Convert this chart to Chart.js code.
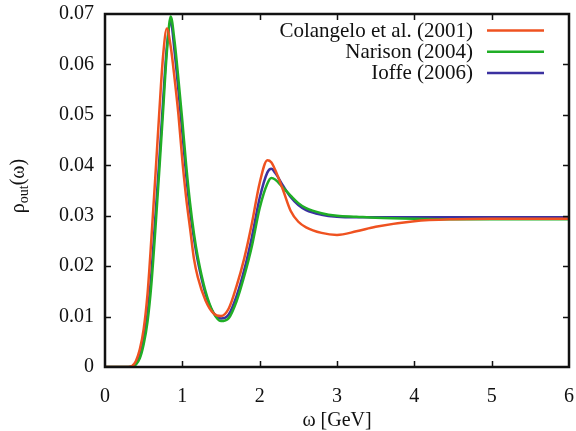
<!DOCTYPE html>
<html>
<head>
    <meta charset="UTF-8">
    <title>rho_out(omega)</title>
    <script src="https://cdn.jsdelivr.net/npm/chart.js@4.4.0/dist/chart.umd.min.js"></script>
    <style>
        body {
            margin: 0;
            background: white;
        }
        canvas {
            display: block;
        }
    </style>
</head>
<body>
<canvas id="rhoChart" width="576" height="431"></canvas>

<script>
    // omega [GeV] sample points
    const omega = [0, 0.2, 0.3, 0.35, 0.4, 0.45, 0.5, 0.55, 0.6, 0.65, 0.7, 0.75, 0.8, 0.85, 0.9, 0.95,
        1.0, 1.05, 1.1, 1.15, 1.2, 1.3, 1.4, 1.5, 1.6, 1.7, 1.8, 1.9, 2.0, 2.1, 2.15, 2.2, 2.3, 2.4, 2.5, 2.6,
        2.8, 3.0, 3.25, 3.5, 4.0, 4.5, 5.0, 5.5, 6.0];

    const colangelo = [0, 0, 0, 0.0002, 0.0012, 0.0035, 0.0075, 0.0145, 0.0255, 0.0375, 0.050, 0.0615, 0.0671, 0.0635, 0.0572, 0.050,
        0.041, 0.0335, 0.0275, 0.0215, 0.0178, 0.0132, 0.0107, 0.0101, 0.0116, 0.0160, 0.0215, 0.0285, 0.0365, 0.0410, 0.0406, 0.0391, 0.0352, 0.0310, 0.0288, 0.0277,
        0.0266, 0.0262, 0.0269, 0.0278, 0.0289, 0.0293, 0.0294, 0.0294, 0.0294];

    const narison = [0, 0, 0, 0, 0.0005, 0.0017, 0.0045, 0.0090, 0.0165, 0.0270, 0.0385, 0.0505, 0.0625, 0.0695, 0.0645, 0.0570,
        0.0488, 0.0400, 0.0325, 0.0265, 0.0218, 0.0150, 0.0108, 0.0091, 0.0097, 0.0130, 0.0180, 0.0240, 0.0315, 0.0364, 0.0375, 0.0372, 0.0356, 0.0340, 0.0325, 0.0315,
        0.0305, 0.0300, 0.0298, 0.0296, 0.0294, 0.0293, 0.0293, 0.0293, 0.0293];

    const ioffe = [0, 0, 0, 0.0001, 0.0007, 0.0022, 0.0055, 0.0105, 0.0185, 0.0295, 0.0405, 0.0525, 0.0635, 0.0684, 0.0625, 0.0548,
        0.0465, 0.0380, 0.0310, 0.0255, 0.0210, 0.0145, 0.0108, 0.0096, 0.0104, 0.0140, 0.0192, 0.0258, 0.0335, 0.0386, 0.0393, 0.0385, 0.0360, 0.0337, 0.0321, 0.0311,
        0.0302, 0.0298, 0.0297, 0.0297, 0.0297, 0.0297, 0.0297, 0.0297, 0.0297];

    const seriesLabels = ['Colangelo et al. (2001)', 'Narison (2004)', 'Ioffe (2006)'];
    const seriesColors = ['#ef5220', '#20ae26', '#3b31a0'];
    const xTicks = [0, 1, 2, 3, 4, 5, 6];
    const yTicks = [0, 0.01, 0.02, 0.03, 0.04, 0.05, 0.06, 0.07];

    const serif = 'Liberation Serif';
    const textColor = '#111';

    function toPoints(ys) {
        return omega.map((x, i) => ({x: x, y: ys[i]}));
    }

    // 枠と内向きの目盛り (gnuplot 風)
    const framePlugin = {
        id: 'frame',
        afterDraw(chart) {
            const {ctx, chartArea: {left, right, top, bottom}, scales: {x, y}} = chart;
            ctx.save();
            ctx.strokeStyle = '#111';
            ctx.lineWidth = 1.5;
            const len = 6;
            x.ticks.forEach(t => {
                if (t.value <= x.min || t.value >= x.max) return;
                const px = Math.round(x.getPixelForValue(t.value)) + 0.5;
                ctx.beginPath();
                ctx.moveTo(px, bottom); ctx.lineTo(px, bottom - len);
                ctx.moveTo(px, top); ctx.lineTo(px, top + len);
                ctx.stroke();
            });
            y.ticks.forEach(t => {
                if (t.value <= y.min + 1e-9 || t.value >= y.max - 1e-9) return;
                const py = Math.round(y.getPixelForValue(t.value)) + 0.5;
                ctx.beginPath();
                ctx.moveTo(left, py); ctx.lineTo(left + len, py);
                ctx.moveTo(right, py); ctx.lineTo(right - len, py);
                ctx.stroke();
            });
            ctx.lineWidth = 2.5;
            ctx.strokeRect(left, top, right - left, bottom - top);
            ctx.restore();
        }
    };

    // 凡例: テキスト右寄せ + 右側に線
    const keyPlugin = {
        id: 'key',
        afterDraw(chart) {
            const ctx = chart.ctx;
            ctx.save();
            ctx.font = '21px "' + serif + '"';
            ctx.textAlign = 'right';
            ctx.textBaseline = 'middle';
            chart.data.datasets.forEach((ds, i) => {
                const yy = 30.5 + i * 21.2;
                ctx.fillStyle = textColor;
                ctx.fillText(ds.label, 473, yy + 1);
                ctx.strokeStyle = ds.borderColor;
                ctx.lineWidth = 2.5;
                ctx.beginPath();
                ctx.moveTo(487, yy);
                ctx.lineTo(544, yy);
                ctx.stroke();
            });
            ctx.restore();
        }
    };

    // 縦軸タイトル (添字付き)
    const yTitlePlugin = {
        id: 'yTitle',
        afterDraw(chart) {
            const ctx = chart.ctx;
            ctx.save();
            ctx.translate(24, 186);
            ctx.rotate(-Math.PI / 2);
            ctx.fillStyle = textColor;
            ctx.textBaseline = 'alphabetic';
            ctx.textAlign = 'left';
            const big = '20px "' + serif + '"';
            const small = '14px "' + serif + '"';
            ctx.font = big;
            const w1 = ctx.measureText('\u03c1').width;
            const w3 = ctx.measureText('(\u03c9)').width;
            ctx.font = small;
            const w2 = ctx.measureText('out').width;
            let x0 = -(w1 + w2 + w3) / 2;
            ctx.font = big;
            ctx.fillText('\u03c1', x0, 0);
            x0 += w1;
            ctx.font = small;
            ctx.fillText('out', x0, 4);
            x0 += w2;
            ctx.font = big;
            ctx.fillText('(\u03c9)', x0, 0);
            ctx.restore();
        }
    };

    const datasets = [colangelo, narison, ioffe].map((ys, i) => ({
        label: seriesLabels[i],
        data: toPoints(ys),
        borderColor: seriesColors[i],
        backgroundColor: seriesColors[i],
        borderWidth: 2.5,
        pointRadius: 0,
        fill: false,
        cubicInterpolationMode: 'monotone'
    }));

    const rhoChart = new Chart(document.getElementById('rhoChart'), {
        type: 'line',
        data: {datasets: datasets},
        options: {
            responsive: false,
            animation: false,
            devicePixelRatio: 1,
            layout: {padding: {left: 0, right: 7, top: 14, bottom: 0}},
            plugins: {
                legend: {display: false},
                tooltip: {enabled: false}
            },
            scales: {
                x: {
                    type: 'linear',
                    min: 0,
                    max: 6,
                    afterFit(scale) {
                        scale.height = 64;
                        scale.paddingLeft = 0;
                        scale.paddingRight = 0;
                    },
                    afterBuildTicks(scale) { scale.ticks = xTicks.map(v => ({value: v})); },
                    grid: {display: false},
                    border: {display: false},
                    ticks: {
                        padding: 10,
                        color: textColor,
                        font: {family: serif, size: 20},
                        callback: v => String(v)
                    },
                    title: {
                        display: true,
                        text: '\u03c9 [GeV]',
                        color: textColor,
                        font: {family: serif, size: 20, lineHeight: 1},
                        padding: {top: 0, bottom: 0}
                    }
                },
                y: {
                    type: 'linear',
                    min: 0,
                    max: 0.07,
                    afterFit(scale) {
                        scale.width = 105;
                        scale.paddingTop = 0;
                        scale.paddingBottom = 0;
                    },
                    afterBuildTicks(scale) { scale.ticks = yTicks.map(v => ({value: v})); },
                    grid: {display: false},
                    border: {display: false},
                    ticks: {
                        padding: 3,
                        color: textColor,
                        font: {family: serif, size: 20},
                        callback: v => (v === 0 ? '0' : v.toFixed(2))
                    }
                }
            }
        },
        plugins: [framePlugin, keyPlugin, yTitlePlugin]
    });
</script>
</body>
</html>
